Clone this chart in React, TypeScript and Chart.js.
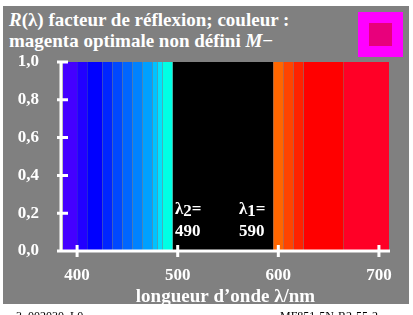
import React, { useEffect, useRef } from 'react';
import { Chart, registerables } from 'chart.js';

Chart.register(...registerables);

// Spectral bands (nm) and their reflectance factor
const bandStart = [386, 400, 410, 425, 435, 445, 455, 465, 475, 480, 485, 495, 595, 605, 615, 625, 665];
const bandEnd = [400, 410, 425, 435, 445, 455, 465, 475, 480, 485, 495, 595, 605, 615, 625, 665, 710];
const reflectance = [1, 1, 1, 1, 1, 1, 1, 1, 1, 1, 1, 0, 1, 1, 1, 1, 1];
const bandColors = [
  '#4400ff', '#2200ff', '#0000ff', '#0026ff', '#0048ff', '#0066ff', '#0082ff', '#00a0ff',
  '#00c2ff', '#00e2ff', '#00ffe4', '#000000', '#ff6600', '#ff4400', '#ff2200', '#ff0000', '#ff0026',
];

const xTicks = [400, 500, 600, 700];
const yTicks = [0, 0.2, 0.4, 0.6, 0.8, 1.0];
const xMin = 384;
const xMax = 711;

const WHITE = '#ffffff';
const FONT = '"Liberation Serif", "Times New Roman", serif';

const axesPlugin = {
  id: 'axesLines',
  afterDatasetsDraw(chart: any) {
    const { ctx, chartArea, scales } = chart;
    const { left, right, top, bottom } = chartArea;
    const x = scales.x;
    const y = scales.y;
    ctx.save();
    ctx.strokeStyle = WHITE;
    ctx.lineWidth = 3;
    ctx.beginPath();
    ctx.moveTo(left, top);
    ctx.lineTo(left, bottom);
    ctx.moveTo(left - 4, bottom);
    ctx.lineTo(right, bottom);
    for (const v of xTicks) {
      const px = x.getPixelForValue(v);
      ctx.moveTo(px, bottom - 6);
      ctx.lineTo(px, bottom + 6);
    }
    for (const v of yTicks) {
      const py = y.getPixelForValue(v);
      ctx.moveTo(left - 4, py);
      ctx.lineTo(left + 7, py);
    }
    ctx.stroke();
    ctx.restore();
  },
};

function ReflectanceChart() {
  const ref = useRef<HTMLCanvasElement | null>(null);
  useEffect(() => {
    if (!ref.current) return;
    const datasets = bandStart.map((s, i) => ({
      data: [
        { x: s, y: reflectance[i] },
        { x: bandEnd[i], y: reflectance[i] },
      ],
      backgroundColor: bandColors[i],
      borderColor: 'rgba(0,0,0,0)',
      borderWidth: 0,
      pointRadius: 0,
      fill: reflectance[i] > 0 ? 'origin' : 'end',
      tension: 0,
    }));
    const chart = new Chart(ref.current, {
      type: 'line',
      data: { datasets },
      plugins: [axesPlugin],
      options: {
        animation: false,
        responsive: false,
        devicePixelRatio: 1,
        events: [],
        layout: { padding: { left: 0, right: 23, top: 62, bottom: 0 } },
        plugins: { legend: { display: false }, tooltip: { enabled: false }, title: { display: false } },
        scales: {
          x: {
            type: 'linear',
            min: xMin,
            max: xMax,
            grid: { display: false, drawTicks: false },
            border: { display: false },
            afterBuildTicks: (scale: any) => {
              scale.ticks = xTicks.map((v) => ({ value: v }));
            },
            afterFit: (scale: any) => {
              scale.height = 64;
            },
            ticks: {
              color: WHITE,
              padding: 14,
              maxRotation: 0,
              font: { family: FONT, size: 17, weight: 'bold' },
              callback: (v: any) => String(v),
            },
            title: {
              display: true,
              text: 'longueur d\u2019onde \u03bb/nm',
              color: WHITE,
              font: { family: FONT, size: 19, weight: 'bold' },
              padding: { top: 4, bottom: 7 },
            },
          },
          y: {
            type: 'linear',
            min: 0,
            max: 1,
            grid: { display: false, drawTicks: false },
            border: { display: false },
            afterBuildTicks: (scale: any) => {
              scale.ticks = yTicks.map((v) => ({ value: v }));
            },
            afterFit: (scale: any) => {
              scale.width = 61;
            },
            ticks: {
              color: WHITE,
              padding: 22,
              font: { family: FONT, size: 17, weight: 'bold' },
              callback: (v: any) => Number(v).toFixed(1).replace('.', ','),
            },
          },
        },
      },
    } as any);
    return () => chart.destroy();
  }, []);
  return (
    <canvas
      ref={ref}
      width={413}
      height={315}
      style={{ position: 'absolute', left: 0, top: 0, width: 413, height: 315 }}
    />
  );
}

export default function App() {
  const txt: React.CSSProperties = {
    position: 'absolute',
    color: WHITE,
    fontFamily: FONT,
    fontWeight: 'bold',
    whiteSpace: 'nowrap',
  };
  return (
    <div
      style={{
        position: 'absolute',
        left: 0,
        top: 0,
        width: 413,
        height: 315,
        overflow: 'hidden',
        background: '#ffffff',
        fontFamily: FONT,
      }}
    >
      <div style={{ position: 'absolute', left: 3, top: 6, width: 406, height: 298, background: '#808080' }} />
      <div style={{ ...txt, left: 9, top: 8.5, fontSize: 19, lineHeight: '21.5px' }}>
        <div>
          <i>R</i>(λ) facteur de réflexion; couleur :
        </div>
        <div>
          magenta optimale non défini <i>M</i>−
        </div>
      </div>
      <div style={{ position: 'absolute', left: 358, top: 12, width: 45, height: 45, background: '#ff00ff' }} />
      <div style={{ position: 'absolute', left: 369, top: 23, width: 23, height: 23, background: '#e8007c' }} />
      <ReflectanceChart />
      <div style={{ ...txt, left: 175, top: 198, fontSize: 17, lineHeight: '22px' }}>
        <div>
          λ<span style={{ position: 'relative', top: 2 }}>2</span>=
        </div>
        <div>490</div>
      </div>
      <div style={{ ...txt, left: 239, top: 198, fontSize: 17, lineHeight: '22px' }}>
        <div>
          λ<span style={{ position: 'relative', top: 2 }}>1</span>=
        </div>
        <div>590</div>
      </div>
      <div style={{ position: 'absolute', left: 12, top: 309, fontSize: 12, color: '#000', whiteSpace: 'nowrap' }}>
        -3_002030_L0
      </div>
      <div style={{ position: 'absolute', left: 280, top: 309, fontSize: 12, color: '#000', whiteSpace: 'nowrap' }}>
        MF851-5N-R2-55-2
      </div>
    </div>
  );
}
